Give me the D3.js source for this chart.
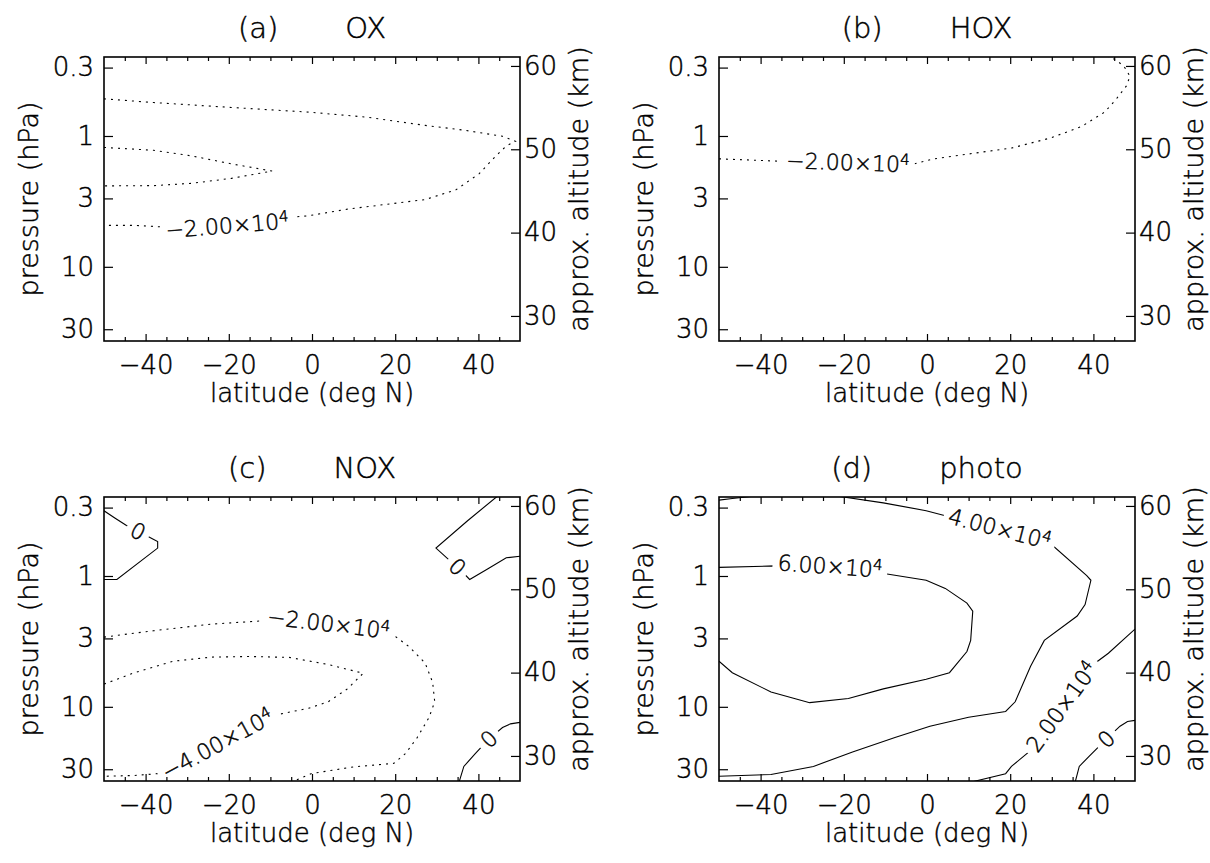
<!DOCTYPE html>
<html><head><meta charset="utf-8">
<script src="https://cdn.jsdelivr.net/npm/d3@7"></script>
<style>
html,body{margin:0;padding:0;background:#fff;}
svg{display:block;}
text{font-family:"DejaVu Sans","Liberation Sans",sans-serif;font-weight:200;fill:#000;stroke:#000;stroke-width:0.45px;}
</style></head><body>
<svg id="chart" width="1210" height="863"></svg>
<script>
// ---------------- data ----------------
const latTicks = [-40, -20, 0, 20, 40];
const latMinorTicks = [-45, -35, -30, -25, -15, -10, -5, 5, 10, 15, 25, 30, 35, 45];
const pressureTicks = [0.3, 1, 3, 10, 30];
const pressureTickLabels = ["0.3", "1", "3", "10", "30"];
const altitudeTicks = [30, 40, 50, 60];
const panelTags = ["(a)", "(b)", "(c)", "(d)"];
const panelNames = ["OX", "HOX", "NOX", "photo"];

// contour polylines: [latitude (deg N), pressure (hPa), optional label]
// (a) OX
const oxMinus2e4 = [[-50,0.52],[-38.1,0.555],[-19.4,0.605],[-0.8,0.657],[13.2,0.718],[27.2,0.83],[36.5,0.902],[45.8,1.005],[48.9,1.098],[46.7,1.192],[43.9,1.453],[40.2,1.939],[34.6,2.578],[27.2,3.061],[17.8,3.332],[8.5,3.625],[-0.8,4.071],[-5.5,4.191],[-20.4,4.824,"−2.00×10^4"],[-35.3,4.968],[-42.7,4.824],[-50,4.824]];
const oxMinus4e4 = [[-50,1.223],[-38.1,1.286],[-28.8,1.422],[-19.4,1.632],[-9.6,1.854],[-19.4,2.108],[-28.8,2.299],[-38.1,2.396],[-50,2.407]];
// (b) HOX
const hoxMinus2e4 = [[-50,1.495],[-40.2,1.537],[-33.7,1.569],[-19,1.59,"−2.00×10^4"],[-4.8,1.685],[1.7,1.495],[11,1.359],[20.4,1.234],[29.7,1.036],[37.1,0.848],[42.7,0.657],[45.5,0.522],[47.9,0.416],[48.8,0.350],[47.4,0.295],[45.5,0.263],[43.7,0.248],[42.5,0.235]];
// (c) NOX
const noxZeroA = [[-50,0.317],[-47.4,0.360],[-44.6,0.411],[-41.8,0.454,"0"],[-38.5,0.516],[-37.1,0.546],[-37.1,0.612],[-46.9,1.063],[-50,1.063]];
const noxZeroB = [[45.3,0.235],[37.4,0.378],[29.8,0.612],[32.8,0.747],[35,0.851,"0"],[37.9,1.063],[42.1,0.887],[46.7,0.726],[50,0.706]];
const noxMinus2e4 = [[-50,2.932],[-38.1,2.62],[-24.1,2.332],[-10.1,2.183],[4,2.311,"−2.00×10^4"],[19.7,2.846],[23.4,3.483],[27.2,4.628],[29,6.501],[29.5,9.15],[28.1,12.13],[25.3,17.16],[22.5,22.72],[19.7,27.03],[10,28.79],[0,32.31],[-7,40]];
const noxMinus4e4 = [[-50,6.702],[-42.7,5.486],[-33.4,4.485],[-24.1,4.169],[-14.8,4.125],[-5.5,4.191],[3.9,4.748],[12.3,5.541],[8.5,7.295],[3.9,9.15],[-0.8,10.25],[-8.2,11.45],[-10.1,11.79],[-22.7,19.24,"−4.00×10^4"],[-35.3,32.08],[-42.7,33.49],[-50,33.97]];
const noxZeroC = [[35.1,40],[36.5,28.55],[39.3,22.72],[42.5,17.63,"0"],[45.8,14.41],[47.7,13.5],[50,13.15]];
// (d) photo
const photo4e4 = [[-50,0.263],[-46.8,0.256],[-36.6,0.235],[-25.4,0.235],[-10.5,0.276],[-0.2,0.317],[4.4,0.346],[17.5,0.434,"4.00×10^4"],[29.6,0.562],[38.4,0.993],[39.4,1.078],[38,1.653],[36.1,2.024],[28.2,3.105],[24.9,4.891],[21.2,9.15],[18.9,10.85],[10,12.02],[0.7,14.07],[-7.7,17.16],[-17.9,22.14],[-27.3,28.55],[-37.5,32.9],[-50,33.97]];
const photo6e4 = [[-50,0.86],[-36.6,0.837],[-23.3,0.84,"6.00×10^4"],[-9.6,0.965],[-0.2,1.078],[4.4,1.244],[9.6,1.611],[11,1.854],[10.5,3.105],[9.6,3.776],[5.4,5.486],[-0.2,6.149],[-10.5,7.295],[-18.9,8.633],[-28.2,9.294],[-37.5,7.703],[-46.8,5.486],[-50,4.485]];
const photo2e4 = [[7.2,40],[18.9,32.43],[20.3,28.55],[24.5,22.14],[32.4,9.98,"2.00×10^4"],[39.4,4.891],[43.6,3.895],[50,2.546]];
const photo0 = [[35.4,40],[36.6,28.55],[38.9,23.99],[43.1,17.63,"0"],[46.4,14.07],[48.2,12.93],[50,12.7]];

const panelContours = [
  [{pts: oxMinus2e4, dotted: true}, {pts: oxMinus4e4, dotted: true}],
  [{pts: hoxMinus2e4, dotted: true}],
  [{pts: noxZeroA, dotted: false}, {pts: noxZeroB, dotted: false}, {pts: noxMinus2e4, dotted: true}, {pts: noxMinus4e4, dotted: true}, {pts: noxZeroC, dotted: false}],
  [{pts: photo4e4, dotted: false}, {pts: photo6e4, dotted: false}, {pts: photo2e4, dotted: false}, {pts: photo0, dotted: false}]
];

// ---------------- layout ----------------
const PW = 416, PH = 284;
const lefts = [104, 719, 104, 719];
const tops = [57, 57, 497, 497];
const LAT_DOMAIN = [-50, 50];
const P_DOMAIN = [0.249, 36.9];
const SCALE_H = 6.818, P_REF = 1934;
const altOf = p => SCALE_H * Math.log(P_REF / p);

const svg = d3.select("#chart");
svg.append("rect").attr("width", 1210).attr("height", 863).attr("fill", "#fff");

function drawPanel(i) {
  const g = svg.append("g").attr("transform", `translate(${lefts[i]},${tops[i]})`);
  const x = d3.scaleLinear().domain(LAT_DOMAIN).range([0, PW]);
  const y = d3.scaleLog().domain(P_DOMAIN).range([0, PH]);
  const alt = d3.scaleLinear().domain([altOf(P_DOMAIN[1]), altOf(P_DOMAIN[0])]).range([PH, 0]);

  const defs = g.append("defs");
  defs.append("clipPath").attr("id", "clip" + i).append("rect").attr("width", PW).attr("height", PH);
  const mask = defs.append("mask").attr("id", "mask" + i).attr("maskUnits", "userSpaceOnUse")
    .attr("x", -20).attr("y", -20).attr("width", PW + 40).attr("height", PH + 40);
  mask.append("rect").attr("x", -20).attr("y", -20).attr("width", PW + 40).attr("height", PH + 40).attr("fill", "white");

  const line = d3.line().x(d => x(d[0])).y(d => y(d[1]));
  const cg = g.append("g").attr("clip-path", `url(#clip${i})`);
  const lg = cg.append("g").attr("mask", `url(#mask${i})`);
  const labG = cg.append("g");

  panelContours[i].forEach(c => {
    lg.append("path").attr("d", line(c.pts)).attr("fill", "none").attr("stroke", "#000")
      .attr("stroke-width", 1.1).attr("stroke-dasharray", c.dotted ? "2,5" : null);
    c.pts.forEach((pt, k) => {
      if (pt.length < 3) return;
      const a = c.pts[Math.max(k - 1, 0)], b = c.pts[Math.min(k + 1, c.pts.length - 1)];
      let dx = x(b[0]) - x(a[0]), dy = y(b[1]) - y(a[1]);
      if (dx < 0) { dx = -dx; dy = -dy; }
      const ang = Math.atan2(dy, dx) * 180 / Math.PI;
      const tr = `translate(${x(pt[0])},${y(pt[1])}) rotate(${ang})`;
      const t = labG.append("text").attr("transform", tr).attr("text-anchor", "middle")
        .attr("dy", "0.36em").style("font-size", "22px");
      const parts = pt[2].split("^");
      t.append("tspan").text(parts[0]);
      if (parts[1]) t.append("tspan").attr("dy", "-0.5em").style("font-size", "15px").text(parts[1]);
      const bb = t.node().getBBox();
      mask.append("rect").attr("transform", tr).attr("x", bb.x - 5).attr("y", bb.y - 1)
        .attr("width", bb.width + 10).attr("height", bb.height + 2).attr("fill", "black");
    });
  });

  // axes
  const styleAxis = sel => {
    sel.select(".domain").remove();
    sel.selectAll("line").attr("stroke", "#000").attr("stroke-width", 1.2);
    sel.selectAll("text").style("font-size", "26px").attr("fill", "#000");
  };
  g.append("g").attr("transform", `translate(0,${PH})`)
    .call(d3.axisBottom(x).tickValues(latTicks).tickSizeInner(-7).tickSizeOuter(0).tickPadding(15))
    .call(styleAxis);
  g.append("g").attr("transform", `translate(0,${PH})`)
    .call(d3.axisBottom(x).tickValues(latMinorTicks).tickSizeInner(-4).tickSizeOuter(0).tickFormat(""))
    .call(styleAxis);
  g.append("g")
    .call(d3.axisTop(x).tickValues(latTicks).tickSizeInner(-7).tickSizeOuter(0).tickFormat(""))
    .call(styleAxis);
  g.append("g")
    .call(d3.axisTop(x).tickValues(latMinorTicks).tickSizeInner(-4).tickSizeOuter(0).tickFormat(""))
    .call(styleAxis);
  g.append("g")
    .call(d3.axisLeft(y).tickValues(pressureTicks).tickFormat((d, k) => pressureTickLabels[k])
      .tickSizeInner(-9).tickSizeOuter(0).tickPadding(10))
    .call(styleAxis);
  g.append("g").attr("transform", `translate(${PW},0)`)
    .call(d3.axisRight(alt).tickValues(altitudeTicks).tickFormat(d3.format("d"))
      .tickSizeInner(-9).tickSizeOuter(0).tickPadding(4))
    .call(styleAxis);

  // frame
  g.append("rect").attr("width", PW).attr("height", PH).attr("fill", "none")
    .attr("stroke", "#000").attr("stroke-width", 1.6);

  // titles
  const title = g.append("text").attr("x", PW / 2).attr("y", -19).attr("text-anchor", "middle")
    .style("font-size", "29px");
  title.append("tspan").text(panelTags[i]);
  title.append("tspan").attr("dx", 67).text(panelNames[i]);

  g.append("text").attr("x", PW / 2).attr("y", PH + 61).attr("text-anchor", "middle")
    .style("font-size", "26px").text("latitude (deg N)");
  g.append("text").attr("transform", `translate(-66,${PH / 2}) rotate(-90)`).attr("text-anchor", "middle")
    .style("font-size", "27px").text("pressure (hPa)");
  g.append("text").attr("transform", `translate(${PW + 68},${PH / 2 - 10}) rotate(-90)`).attr("text-anchor", "middle")
    .style("font-size", "27px").text("approx. altitude (km)");
}

[0, 1, 2, 3].forEach(drawPanel);
</script>
</body></html>
